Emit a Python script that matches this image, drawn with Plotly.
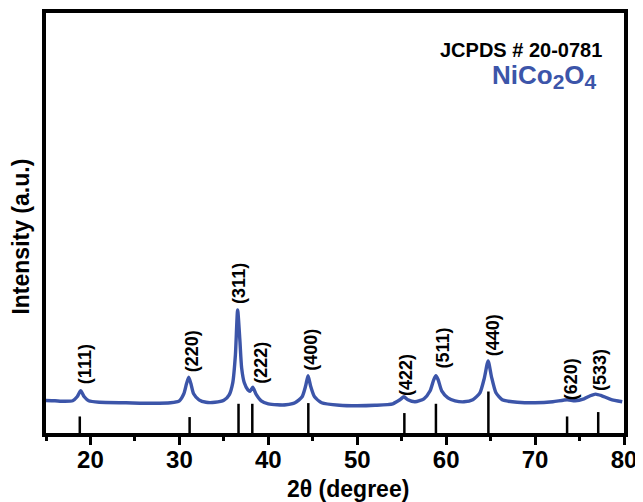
import plotly.graph_objects as go

# XRD pattern (2theta in degrees, intensity in arbitrary units)
two_theta = [15.0, 16.0, 17.0, 18.0, 18.5, 18.9, 19.3, 19.8, 21.0, 24.0, 27.0, 29.0, 30.0,
             30.5, 30.8, 31.05, 31.3, 31.6, 32.2, 33.0, 34.0, 35.0, 35.6, 36.0, 36.3, 36.55,
             36.8, 37.0, 37.3, 37.7, 37.95, 38.25, 38.6, 39.2, 40.0, 41.0, 42.0, 43.0, 43.8,
             44.2, 44.47, 44.75, 45.2, 46.0, 48.0, 50.0, 52.0, 54.0, 54.8, 55.25, 55.7, 56.5,
             57.5, 58.2, 58.6, 58.85, 59.1, 59.5, 60.2, 61.0, 62.0, 63.0, 63.8, 64.3, 64.72,
             65.1, 65.6, 66.3, 67.0, 68.0, 70.0, 72.0, 73.6, 74.5, 75.5, 76.2, 76.8, 77.5,
             78.5, 79.8]
intensity = [34.3, 34.0, 33.5, 34.0, 38.0, 44.0, 38.0, 34.0, 32.5, 32.0, 31.5, 32.0, 34.0,
             41.0, 51.0, 57.5, 51.0, 41.0, 35.0, 32.5, 32.5, 34.5, 40.0, 52.0, 80.0, 125.0,
             95.0, 67.0, 52.0, 45.0, 43.5, 47.5, 41.0, 34.0, 31.0, 30.0, 30.0, 32.0, 38.0,
             49.0, 59.0, 49.0, 38.0, 32.0, 29.5, 29.0, 29.5, 31.0, 35.0, 38.0, 35.0, 33.0,
             36.0, 44.0, 55.0, 59.0, 55.0, 44.0, 37.0, 34.0, 33.0, 35.0, 42.0, 57.0, 74.0,
             58.0, 42.0, 35.0, 33.5, 32.5, 32.0, 33.0, 35.0, 34.0, 36.0, 39.0, 40.7, 39.0,
             35.5, 33.0]

# JCPDS # 20-0781 reference lines
ref_pos = [18.8, 31.15, 36.65, 38.2, 44.5, 55.3, 58.85, 64.75, 73.6, 77.1]
ref_height = [18.3, 17.7, 31.0, 31.0, 31.7, 21.7, 31.0, 43.3, 18.3, 22.7]

# Miller index labels
hkl = ["(111)", "(220)", "(311)", "(222)", "(400)", "(422)", "(511)", "(440)", "(620)", "(533)"]
hkl_x = [19.42, 31.35, 36.7, 39.18, 44.78, 55.5, 59.6, 65.2, 73.97, 77.33]
hkl_y = [71, 84, 152, 72, 85, 60, 87, 100, 56, 65]

x_ticks = [20, 30, 40, 50, 60, 70, 80]

BLUE = "#3c55a9"
FONT = "Liberation Sans"

# the page body adds an 8px offset; compensate so the figure fills the 643x502 window
OFF = 8
W, H = 643 - OFF, 502 - OFF

stick_x, stick_y = [], []
for p, h in zip(ref_pos, ref_height):
    stick_x += [p, p, None]
    stick_y += [0, h, None]

fig = go.Figure()
fig.add_trace(go.Scatter(x=stick_x, y=stick_y, mode="lines",
                         line=dict(color="black", width=2.5), hoverinfo="skip",
                         showlegend=False))
fig.add_trace(go.Scatter(x=two_theta, y=intensity, mode="lines",
                         line=dict(color=BLUE, width=3.4, shape="spline", smoothing=0.6),
                         showlegend=False))

annotations = []
for t, x, y in zip(hkl, hkl_x, hkl_y):
    annotations.append(dict(x=x, y=y, xref="x", yref="y", text=t, showarrow=False,
                            textangle=-90, xanchor="center", yanchor="middle",
                            font=dict(family=FONT, size=18, color="black", weight="bold")))
annotations.append(dict(x=77.7, y=385, xref="x", yref="y", text="JCPDS # 20-0781",
                        showarrow=False, xanchor="right", yanchor="middle",
                        font=dict(family=FONT, size=20, color="black", weight="bold")))
annotations.append(dict(x=77.15, y=359, xref="x", yref="y",
                        text="NiCo<sub><span style='font-size:21px'>2</span></sub>"
                             "O<sub><span style='font-size:21px'>4</span></sub>",
                        showarrow=False, xanchor="right", yanchor="middle",
                        font=dict(family=FONT, size=26, color=BLUE, weight="bold")))
annotations.append(dict(x=0.5225, y=-0.133, xref="paper", yref="paper", text="2θ (degree)",
                        showarrow=False, xanchor="center", yanchor="middle",
                        font=dict(family=FONT, size=23, color="black", weight="bold")))
annotations.append(dict(x=-0.0437, y=0.467, xref="paper", yref="paper", text="Intensity (a.u.)",
                        showarrow=False, textangle=-90, xanchor="center", yanchor="middle",
                        font=dict(family=FONT, size=23, color="black", weight="bold")))

fig.update_layout(
    width=W, height=H,
    margin=dict(l=38, r=19, t=5, b=69, autoexpand=False),
    paper_bgcolor="white", plot_bgcolor="white",
    annotations=annotations,
    xaxis=dict(range=[15, 80], tickvals=x_ticks, ticktext=[str(v) for v in x_ticks],
               automargin=False,
               showline=True, linecolor="black", linewidth=3.5, mirror=True,
               ticks="outside", ticklen=8, tickwidth=3, tickcolor="black",
               ticklabelstandoff=-6,
               minor=dict(tickvals=[15, 25, 35, 45, 55, 65, 75], ticks="outside",
                          ticklen=4, tickwidth=3, tickcolor="black"),
               showgrid=False, zeroline=False,
               tickfont=dict(family=FONT, size=24, color="black", weight="bold")),
    yaxis=dict(range=[1.75, 422.25], showticklabels=False, showline=True, linecolor="black",
               automargin=False,
               linewidth=3.5, mirror=True, ticks="", showgrid=False, zeroline=False),
)

fig.write_html("out.html")
